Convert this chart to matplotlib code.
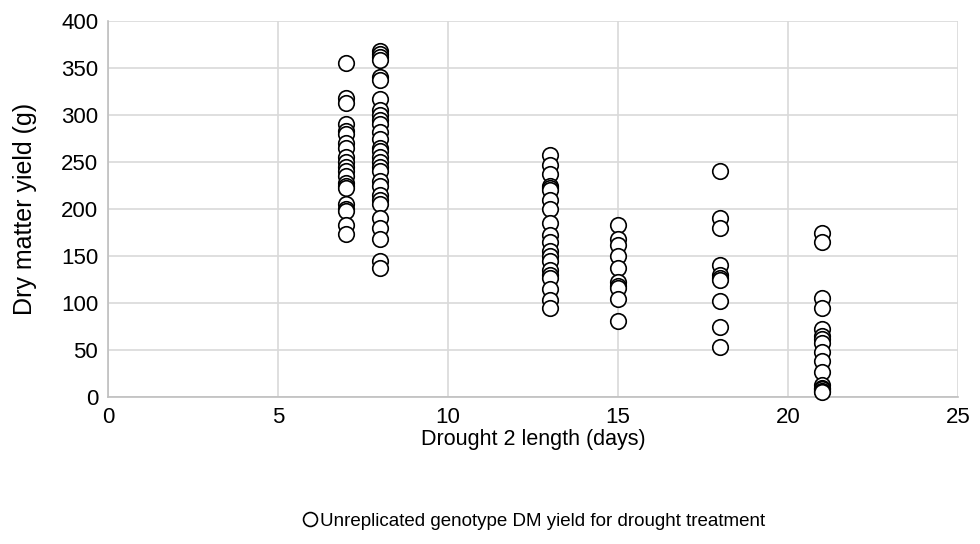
import matplotlib.pyplot as plt
from matplotlib.lines import Line2D

plt.rcParams['font.family'] = ['Liberation Sans', 'DejaVu Sans']

# drought 2 length (days) -> dry matter yields (g)
days = [7, 8, 13, 15, 18, 21]
y7 = [355, 318, 313, 290, 283, 280, 270, 265, 255, 250, 245, 240, 235, 228,
      225, 222, 205, 200, 198, 183, 173]
y8 = [368, 365, 362, 358, 340, 337, 317, 305, 300, 295, 290, 282, 275, 265,
      262, 255, 250, 245, 240, 230, 225, 215, 210, 205, 190, 180, 168, 145, 137]
y13 = [257, 247, 237, 225, 222, 220, 210, 200, 185, 172, 165, 155, 150, 145,
       135, 130, 127, 115, 103, 95]
y15 = [183, 168, 162, 150, 137, 122, 118, 116, 104, 81]
y18 = [240, 190, 180, 140, 130, 127, 124, 102, 74, 53]
y21 = [175, 165, 105, 95, 72, 65, 62, 57, 48, 38, 27, 13, 10, 8, 6, 5]
yields = [y7, y8, y13, y15, y18, y21]

xs = []
ys = []
for d, vals in zip(days, yields):
    xs += [d] * len(vals)
    ys += vals

fig = plt.figure(figsize=(9.8, 5.44), dpi=100)
ax = fig.add_axes([108 / 980, 1 - 397 / 544, 850 / 980, 376 / 544])

ax.scatter(xs, ys, s=125, facecolor='white', edgecolor='black', linewidth=1.2,
           zorder=3, clip_on=False)

ax.set_xlim(0, 25)
ax.set_ylim(0, 400)
ax.set_xticks(range(0, 26, 5))
ax.set_yticks(range(0, 401, 50))
ax.grid(True, color='#d9d9d9', linewidth=1.2)
ax.set_axisbelow(True)
for s in ['top', 'right']:
    ax.spines[s].set_visible(False)
for s in ['left', 'bottom']:
    ax.spines[s].set_color('#bfbfbf')
    ax.spines[s].set_linewidth(1.2)
ax.tick_params(length=0, labelsize=16, pad=7)
ax.set_xlabel('Drought 2 length (days)', fontsize=15.5, labelpad=1)
ax.set_ylabel('Dry matter yield (g)', fontsize=18, labelpad=17)

handle = Line2D([], [], linestyle='none', marker='o', markersize=10,
                markerfacecolor='white', markeredgecolor='black',
                markeredgewidth=1.2)
fig.legend([handle], ['Unreplicated genotype DM yield for drought treatment'],
           loc='center', bbox_to_anchor=(533 / 980, 1 - 521 / 544),
           frameon=False, fontsize=13.5, handletextpad=0.0, handlelength=1.0)

fig.savefig('out.png', dpi=100)
